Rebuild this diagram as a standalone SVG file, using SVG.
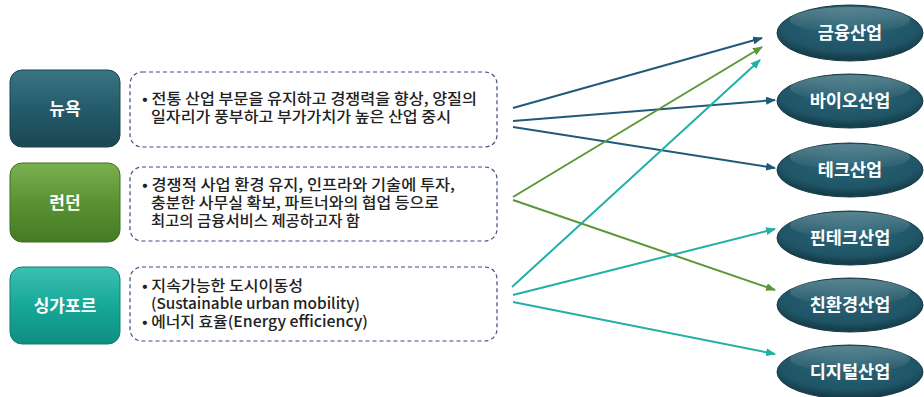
<svg xmlns="http://www.w3.org/2000/svg" width="924" height="397" viewBox="0 0 924 397">
<style>
.lbl{font-family:"Noto Sans CJK KR","Noto Sans",sans-serif;font-weight:bold;font-size:17px;fill:#fff;text-anchor:middle}
.txt{font-family:"Noto Sans CJK KR","Liberation Sans",sans-serif;font-weight:500;font-size:15px;fill:#222}
.dash{fill:#fff;stroke:#3b4a86;stroke-width:1.2;stroke-dasharray:4 3}
.ell{font-family:"Noto Sans CJK KR","Noto Sans",sans-serif;font-weight:bold;font-size:17.5px;fill:#fff;text-anchor:middle}
.c1{stroke:#1f5b78;stroke-width:2;fill:none}
.c2{stroke:#5c9735;stroke-width:2;fill:none}
.c3{stroke:#20b0a6;stroke-width:2;fill:none}
</style>
<defs>
<linearGradient id="gNY" x1="0" y1="0" x2="0" y2="1"><stop offset="0" stop-color="#3a7584"/><stop offset="0.5" stop-color="#245b6a"/><stop offset="1" stop-color="#1a4754"/></linearGradient>
<linearGradient id="gLD" x1="0" y1="0" x2="0" y2="1"><stop offset="0" stop-color="#7bb04f"/><stop offset="0.5" stop-color="#5a9232"/><stop offset="1" stop-color="#467a25"/></linearGradient>
<linearGradient id="gSG" x1="0" y1="0" x2="0" y2="1"><stop offset="0" stop-color="#3cc0b2"/><stop offset="0.5" stop-color="#17a898"/><stop offset="1" stop-color="#0f8e80"/></linearGradient>
<radialGradient id="gE" cx="0.5" cy="0.35" r="0.6"><stop offset="0" stop-color="#2c6677"/><stop offset="0.8" stop-color="#1f5566"/><stop offset="1" stop-color="#163f4c"/></radialGradient>
<linearGradient id="gH" x1="0" y1="0" x2="0" y2="1"><stop offset="0" stop-color="#fff" stop-opacity="0.25"/><stop offset="1" stop-color="#fff" stop-opacity="0"/></linearGradient>
<marker id="m1" markerWidth="10" markerHeight="8" refX="9" refY="4" orient="auto" markerUnits="userSpaceOnUse"><path d="M0,0 L10,4 L0,8 z" fill="#1f5b78"/></marker>
<marker id="m2" markerWidth="10" markerHeight="8" refX="9" refY="4" orient="auto" markerUnits="userSpaceOnUse"><path d="M0,0 L10,4 L0,8 z" fill="#5c9735"/></marker>
<marker id="m3" markerWidth="10" markerHeight="8" refX="9" refY="4" orient="auto" markerUnits="userSpaceOnUse"><path d="M0,0 L10,4 L0,8 z" fill="#20b0a6"/></marker>
</defs>
<rect width="924" height="397" fill="#fff"/>

<g id="newyork">
<rect x="10" y="70" width="110" height="77" rx="12" fill="url(#gNY)" stroke="#1a4250" stroke-width="1"/>
<text class="lbl" x="65" y="115">뉴욕</text>
</g>
<g id="newyork-desc">
<rect class="dash" x="130" y="72" width="367" height="75" rx="12"/>
<text class="txt" x="142" y="104" textLength="335" lengthAdjust="spacingAndGlyphs">• 전통 산업 부문을 유지하고 경쟁력을 향상, 양질의</text>
<text class="txt" x="151" y="122" textLength="300" lengthAdjust="spacingAndGlyphs">일자리가 풍부하고 부가가치가 높은 산업 중시</text>
</g>

<g id="london">
<rect x="10" y="163" width="110" height="79" rx="12" fill="url(#gLD)" stroke="#3e6e20" stroke-width="1"/>
<text class="lbl" x="65" y="209">런던</text>
</g>
<g id="london-desc">
<rect class="dash" x="130" y="167" width="367" height="74" rx="12"/>
<text class="txt" x="142" y="190" textLength="313" lengthAdjust="spacingAndGlyphs">• 경쟁적 사업 환경 유지, 인프라와 기술에 투자,</text>
<text class="txt" x="151" y="208" textLength="288" lengthAdjust="spacingAndGlyphs">충분한 사무실 확보, 파트너와의 협업 등으로</text>
<text class="txt" x="151" y="226" textLength="209" lengthAdjust="spacingAndGlyphs">최고의 금융서비스 제공하고자 함</text>
</g>

<g id="singapore">
<rect x="10" y="267" width="110" height="77" rx="12" fill="url(#gSG)" stroke="#0e7f73" stroke-width="1"/>
<text class="lbl" x="65" y="312">싱가포르</text>
</g>
<g id="singapore-desc">
<rect class="dash" x="130" y="267" width="367" height="74" rx="12"/>
<text class="txt" x="142" y="291" textLength="161" lengthAdjust="spacingAndGlyphs">• 지속가능한 도시이동성</text>
<text class="txt" x="151" y="309" textLength="209" lengthAdjust="spacingAndGlyphs">(Sustainable urban mobility)</text>
<text class="txt" x="142" y="327" textLength="226" lengthAdjust="spacingAndGlyphs">• 에너지 효율(Energy efficiency)</text>
</g>

<g id="finance">
<ellipse cx="850" cy="33" rx="73" ry="28" fill="url(#gE)" stroke="#143a46"/>
<ellipse cx="850" cy="20" rx="60" ry="13" fill="url(#gH)"/>
<text class="ell" x="850" y="39">금융산업</text>
</g>
<g id="bio">
<ellipse cx="850" cy="101" rx="73" ry="27" fill="url(#gE)" stroke="#143a46"/>
<ellipse cx="850" cy="88" rx="60" ry="13" fill="url(#gH)"/>
<text class="ell" x="850" y="107">바이오산업</text>
</g>
<g id="tech">
<ellipse cx="850" cy="170" rx="73" ry="27" fill="url(#gE)" stroke="#143a46"/>
<ellipse cx="850" cy="157" rx="60" ry="13" fill="url(#gH)"/>
<text class="ell" x="850" y="176">테크산업</text>
</g>
<g id="fintech">
<ellipse cx="850" cy="238" rx="73" ry="27" fill="url(#gE)" stroke="#143a46"/>
<ellipse cx="850" cy="225" rx="60" ry="13" fill="url(#gH)"/>
<text class="ell" x="850" y="244">핀테크산업</text>
</g>
<g id="green">
<ellipse cx="850" cy="305" rx="73" ry="27" fill="url(#gE)" stroke="#143a46"/>
<ellipse cx="850" cy="292" rx="60" ry="13" fill="url(#gH)"/>
<text class="ell" x="850" y="311">친환경산업</text>
</g>
<g id="digital">
<ellipse cx="850" cy="372" rx="73" ry="27" fill="url(#gE)" stroke="#143a46"/>
<ellipse cx="850" cy="359" rx="60" ry="13" fill="url(#gH)"/>
<text class="ell" x="850" y="378">디지털산업</text>
</g>

<g id="connectors">
<line class="c1" x1="513" y1="108" x2="762" y2="38" marker-end="url(#m1)"/>
<line class="c1" x1="513" y1="121" x2="775" y2="100" marker-end="url(#m1)"/>
<line class="c1" x1="513" y1="127" x2="775" y2="168" marker-end="url(#m1)"/>
<line class="c2" x1="513" y1="197" x2="762" y2="47" marker-end="url(#m2)"/>
<line class="c2" x1="513" y1="200" x2="775" y2="290" marker-end="url(#m2)"/>
<line class="c3" x1="512" y1="287" x2="760" y2="60" marker-end="url(#m3)"/>
<line class="c3" x1="513" y1="295" x2="775" y2="229" marker-end="url(#m3)"/>
<line class="c3" x1="513" y1="302" x2="775" y2="354" marker-end="url(#m3)"/>
</g>
</svg>
